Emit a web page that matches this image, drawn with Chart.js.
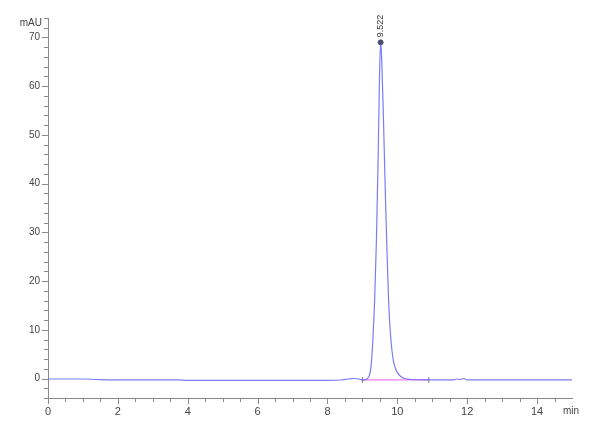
<!DOCTYPE html>
<html>
<head>
<meta charset="utf-8">
<script src="https://cdn.jsdelivr.net/npm/chart.js@4.4.1/dist/chart.umd.min.js"></script>
<style>
  html, body { margin: 0; padding: 0; background: #fff; }
  #wrap { width: 600px; height: 440px; position: relative; }
</style>
</head>
<body>
<div id="wrap"><canvas id="chromChart"></canvas></div>
<script>
// retention time (min) and absorbance (mAU)
const times = [0, 1, 1.4, 2, 3, 3.7, 4, 5, 6, 7, 8, 8.4, 8.6, 8.75, 8.9, 9.0, 9.1, 9.18, 9.22,
  9.26, 9.3, 9.35, 9.4, 9.45, 9.49, 9.522, 9.55, 9.6, 9.65, 9.7, 9.75, 9.8, 9.85, 9.9, 9.95,
  10.0, 10.1, 10.2, 10.4, 10.8, 11.2, 11.6, 11.7, 11.8, 11.9, 12.0, 13, 14, 15];
const signal = [-0.1, -0.1, -0.2, -0.3, -0.3, -0.3, -0.4, -0.4, -0.4, -0.4, -0.4, -0.3, -0.1, 0.0, -0.1, -0.3, -0.2, 0.3, 1.2,
  3.5, 8, 16, 28, 45, 62, 69, 66, 54, 40, 27, 16, 9.5, 5.5, 3.2, 2.0,
  1.2, 0.4, 0.0, -0.2, -0.3, -0.3, -0.3, -0.1, -0.2, 0.0, -0.3, -0.3, -0.3, -0.3];
const peakTime = 9.522;
const peakValue = 69;
const peakLabel = '9.522';
const baselineTimes = [9.0, 10.9];
const baselineValues = [-0.3, -0.3];

const xTicks = [0, 2, 4, 6, 8, 10, 12, 14];
const yTicks = [0, 10, 20, 30, 40, 50, 60, 70];
const xMinorStep = 0.5;
const yMinorStep = 2;

const axisColor = '#8a8a8a';
const textColor = '#444';

const axisPlugin = {
  id: 'axisDecor',
  afterDraw(chart) {
    const ctx = chart.ctx;
    const xs = chart.scales.x, ys = chart.scales.y;
    const area = chart.chartArea;
    ctx.save();
    ctx.strokeStyle = axisColor;
    ctx.lineWidth = 1;
    ctx.beginPath();
    // x minor / major ticks
    for (let v = xs.min; v <= xs.max - 0.01; v += xMinorStep) {
      const px = Math.round(xs.getPixelForValue(v)) + 0.5;
      const len = xTicks.includes(v) ? 6 : 4;
      ctx.moveTo(px, area.bottom);
      ctx.lineTo(px, area.bottom + len);
    }
    // y minor / major ticks
    for (let v = ys.min; v <= ys.max; v += yMinorStep) {
      const py = Math.round(ys.getPixelForValue(v)) + 0.5;
      const len = yTicks.includes(v) ? 6 : 4;
      ctx.moveTo(area.left, py);
      ctx.lineTo(area.left - len, py);
    }
    ctx.stroke();

    // units
    ctx.fillStyle = textColor;
    ctx.font = '10px "Liberation Sans", Arial, sans-serif';
    ctx.textAlign = 'right';
    ctx.textBaseline = 'middle';
    ctx.fillText('mAU', area.left - 6, 23);
    ctx.textAlign = 'left';
    ctx.fillText('min', area.right - 9, area.bottom + 13);

    // peak annotation
    const px = xs.getPixelForValue(peakTime);
    const py = ys.getPixelForValue(peakValue);
    ctx.translate(px, py - 5);
    ctx.rotate(-Math.PI / 2);
    ctx.fillStyle = '#333';
    ctx.font = '9px "Liberation Sans", Arial, sans-serif';
    ctx.textAlign = 'left';
    ctx.textBaseline = 'middle';
    ctx.fillText(peakLabel, 0, 0);
    ctx.restore();
  }
};

new Chart(document.getElementById('chromChart'), {
  type: 'line',
  data: {
    datasets: [
      {
        data: times.map((t, i) => ({ x: t, y: signal[i] })),
        borderColor: 'rgba(100, 100, 250, 0.85)',
        borderWidth: 1.2,
        pointRadius: 0,
        cubicInterpolationMode: 'monotone',
        order: 1
      },
      {
        data: baselineTimes.map((t, i) => ({ x: t, y: baselineValues[i] })),
        borderColor: '#ff7cf0',
        borderWidth: 1.2,
        pointStyle: 'line',
        rotation: 90,
        pointRadius: 3,
        pointBorderColor: '#777',
        pointBorderWidth: 1,
        order: 2
      },
      {
        data: [{ x: peakTime, y: peakValue }],
        showLine: false,
        pointRadius: 2.5,
        pointBackgroundColor: '#4a4f70',
        pointBorderColor: '#4a4f70',
        order: 0
      }
    ]
  },
  options: {
    responsive: true,
    maintainAspectRatio: false,
    animation: false,
    layout: { padding: { left: 0, top: 18, right: 28, bottom: 0 } },
    plugins: { legend: { display: false }, tooltip: { enabled: false } },
    scales: {
      x: {
        type: 'linear',
        min: 0,
        max: 15,
        afterBuildTicks: s => { s.ticks = xTicks.map(v => ({ value: v })); },
        afterFit: s => { s.height = 42; },
        grid: { display: false, drawTicks: false },
        border: { display: true, color: axisColor, width: 1 },
        ticks: {
          color: textColor,
          padding: 7,
          maxRotation: 0,
          font: { family: '"Liberation Sans", Arial, sans-serif', size: 11 }
        }
      },
      y: {
        type: 'linear',
        min: -4,
        max: 74,
        afterBuildTicks: s => { s.ticks = yTicks.map(v => ({ value: v })); },
        afterFit: s => { s.width = 48; },
        grid: { display: false, drawTicks: false },
        border: { display: true, color: axisColor, width: 1 },
        ticks: {
          color: textColor,
          padding: 8,
          font: { family: '"Liberation Sans", Arial, sans-serif', size: 10 }
        }
      }
    }
  },
  plugins: [axisPlugin]
});
</script>
</body>
</html>
